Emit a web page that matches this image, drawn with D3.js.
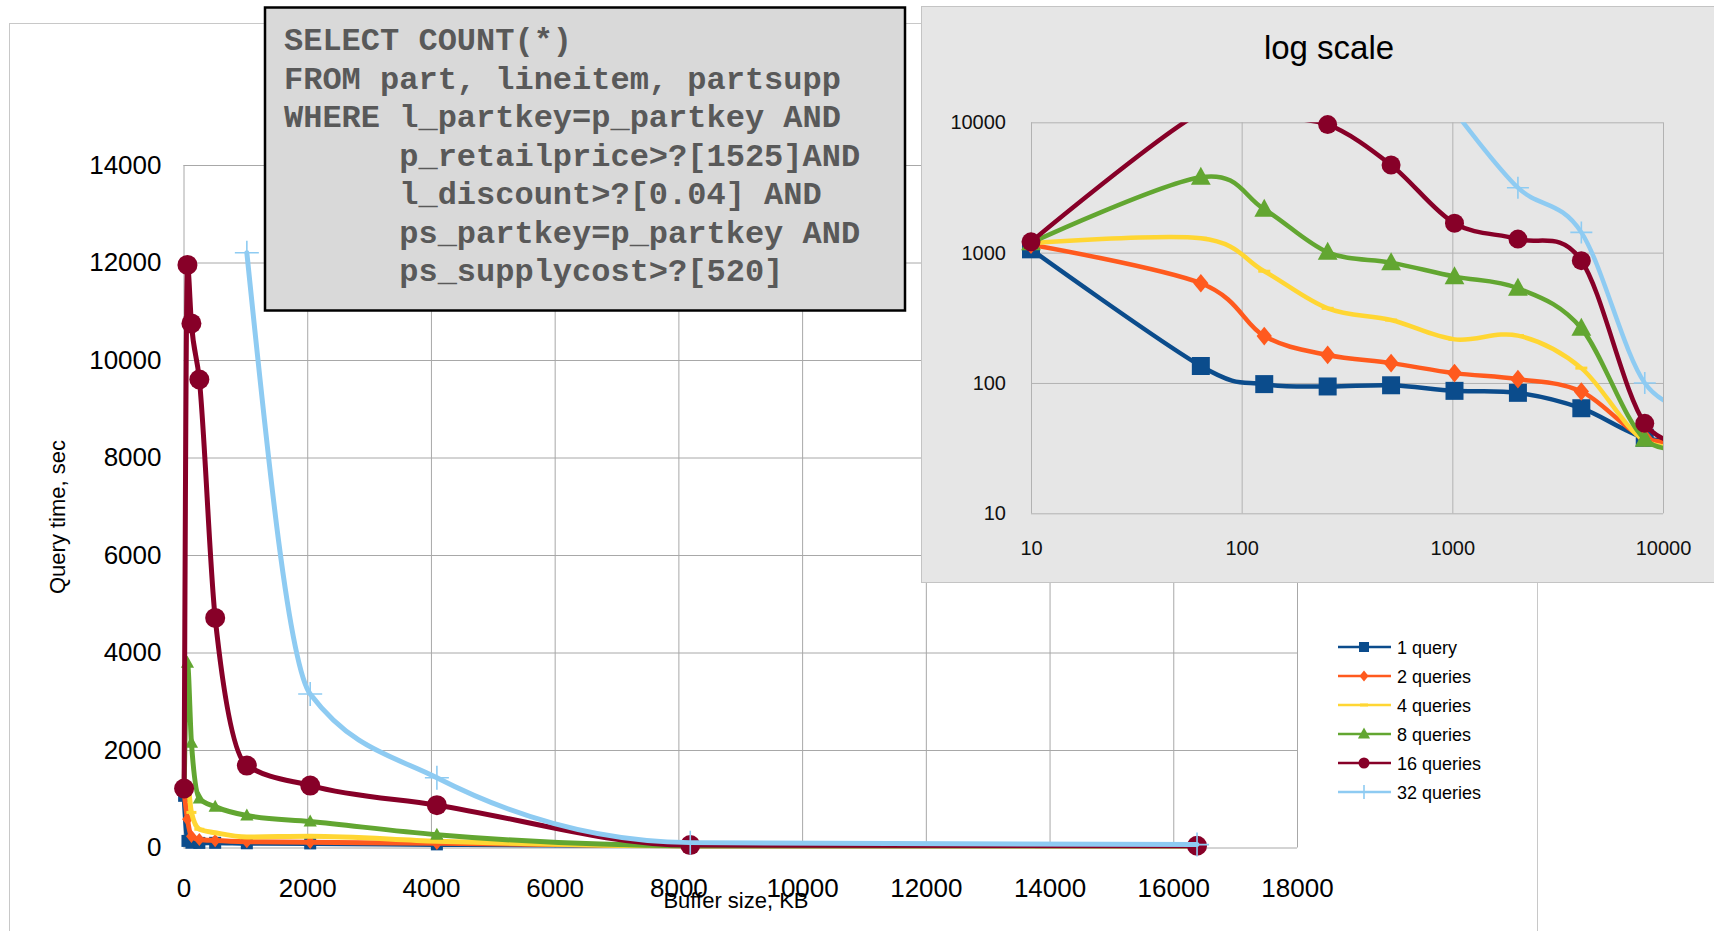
<!DOCTYPE html>
<html>
<head>
<meta charset="utf-8">
<script src="https://cdn.jsdelivr.net/npm/d3@7"></script>
<style>
  html, body { margin: 0; padding: 0; background: #ffffff; }
  svg { display: block; }
  text { font-family: "Liberation Sans", Arial, sans-serif; }
</style>
</head>
<body>
<script>
// Buffer sizes (KB) at which the query mix was timed
const bufferKB = [10, 64, 128, 256, 512, 1024, 2048, 4096, 8192, 16384];

// Query time (sec) for each number of concurrent queries
const q1  = [1060, 135, 98, 94, 96, 87, 84, 64, 38, 35];
const q2  = [1150, 582, 229, 164, 142, 119, 107, 86, 38, 35];
const q4  = [1180, 1290, 720, 374, 304, 216, 231, 130, 36, 34];
const q8  = [1190, 3790, 2150, 1007, 838, 655, 533, 263, 37, 34];
const q16 = [1210, 11950, 10750, 9600, 4710, 1680, 1270, 868, 49, 36];
const q32 = [null, null, null, null, null, 12200, 3150, 1430, 100, 60];

const seriesNames   = ["1 query", "2 queries", "4 queries", "8 queries", "16 queries", "32 queries"];
const seriesValues  = [q1, q2, q4, q8, q16, q32];
const seriesColors  = ["#0b4c8c", "#ff5a1e", "#ffd633", "#62a631", "#870028", "#8ecbf2"];
const seriesMarkers = ["square", "diamond", "dash", "triangle", "circle", "plus"];

// Axis ticks
const mainXTicks = [0, 2000, 4000, 6000, 8000, 10000, 12000, 14000, 16000, 18000];
const mainYTicks = [0, 2000, 4000, 6000, 8000, 10000, 12000, 14000];
const logTicks   = [10, 100, 1000, 10000];

// Query shown in the callout box
const sqlLines = [
  "SELECT COUNT(*)",
  "FROM part, lineitem, partsupp",
  "WHERE l_partkey=p_partkey AND",
  "      p_retailprice>?[1525]AND",
  "      l_discount>?[0.04] AND",
  "      ps_partkey=p_partkey AND",
  "      ps_supplycost>?[520]"
];

const series = seriesNames.map((name, i) => ({
  name,
  color: seriesColors[i],
  marker: seriesMarkers[i],
  points: bufferKB.map((x, j) => ({ x, v: seriesValues[i][j] })).filter(d => d.v != null)
}));

const svg = d3.select("body").append("svg").attr("width", 1714).attr("height", 931);

// Marker shapes, centred on the origin
function markerPath(type, s) {
  switch (type) {
    case "square":   return `M${-s/2},${-s/2}h${s}v${s}h${-s}Z`;
    case "diamond":  return `M0,${-s*0.55}L${s*0.45},0L0,${s*0.55}L${-s*0.45},0Z`;
    case "triangle": return `M0,${-s*0.58}L${s*0.55},${s*0.42}L${-s*0.55},${s*0.42}Z`;
    case "circle":   return d3.symbol(d3.symbolCircle, Math.PI * (s/2) * (s/2))();
    case "plus":     return `M${-s/2},0H${s/2}M0,${-s/2}V${s/2}`;
    case "dash":     return `M${-s/2},0H${s/2}`;
  }
}
function styleMarker(sel, type, color) {
  if (type === "plus") sel.attr("fill", "none").attr("stroke", color).attr("stroke-width", 1.6);
  else if (type === "dash") sel.attr("fill", "none").attr("stroke", color).attr("stroke-width", 3);
  else sel.attr("fill", color).attr("stroke", "none");
}

// ---------------- Main (linear) chart ----------------
svg.append("rect")
  .attr("x", 9.5).attr("y", 23.5).attr("width", 1528).attr("height", 960)
  .attr("fill", "#ffffff").attr("stroke", "#c8c8c8").attr("stroke-width", 1);

const x = d3.scaleLinear().domain([0, 18000]).range([183.5, 1297]);
const y = d3.scaleLinear().domain([0, 14000]).range([847.5, 165]);
const plotW = x.range()[1] - x.range()[0];
const plotH = y.range()[0] - y.range()[1];

const yAxis = svg.append("g")
  .attr("transform", `translate(${x.range()[0]},0)`)
  .call(d3.axisLeft(y).tickValues(mainYTicks).tickFormat(d3.format("d"))
        .tickSizeInner(-plotW).tickSizeOuter(0).tickPadding(22));
const xAxis = svg.append("g")
  .attr("transform", `translate(0,${y.range()[0]})`)
  .call(d3.axisBottom(x).tickValues(mainXTicks).tickFormat(d3.format("d"))
        .tickSizeInner(-plotH).tickSizeOuter(0).tickPadding(31));
[yAxis, xAxis].forEach(a => {
  a.select(".domain").remove();
  a.selectAll(".tick line").attr("stroke", "#a8a8a8").attr("stroke-width", 1);
  a.selectAll(".tick text").attr("fill", "#000").style("font-size", "26px")
    .style("font-family", "'Liberation Sans', Arial, sans-serif");
});

svg.append("text")
  .attr("transform", "translate(65,517) rotate(-90)")
  .attr("text-anchor", "middle").attr("fill", "#000")
  .style("font-size", "22px").text("Query time, sec");

svg.append("text")
  .attr("x", 736).attr("y", 908)
  .attr("text-anchor", "middle").attr("fill", "#000")
  .style("font-size", "22px").text("Buffer size, KB");

// Smoothed lines without overshoot on the steep start of each series
const mainLine = d3.line().x(d => x(d.x)).y(d => y(d.v)).curve(d3.curveMonotoneX);
const mainMarkerSize = { square: 12, diamond: 12, dash: 10, triangle: 12, circle: 20, plus: 24 };

const mainSeries = svg.append("g").selectAll("g").data(series).join("g");
mainSeries.append("path")
  .attr("d", s => mainLine(s.points))
  .attr("fill", "none").attr("stroke", s => s.color)
  .attr("stroke-width", 5).attr("stroke-linejoin", "round").attr("stroke-linecap", "round");
mainSeries.each(function (s) {
  d3.select(this).selectAll("path.mk").data(s.points).join("path")
    .attr("class", "mk")
    .attr("transform", d => `translate(${x(d.x)},${y(d.v)})`)
    .attr("d", markerPath(s.marker, mainMarkerSize[s.marker]))
    .call(styleMarker, s.marker, s.color);
});

// Legend
const legend = svg.append("g").selectAll("g").data(series).join("g")
  .attr("transform", (s, i) => `translate(1338,${647 + i * 29})`);
legend.append("line")
  .attr("x1", 0).attr("x2", 53).attr("y1", 0).attr("y2", 0)
  .attr("stroke", s => s.color).attr("stroke-width", 2.5);
const legendMarkerSize = { square: 10, diamond: 10, dash: 8, triangle: 11, circle: 11, plus: 14 };
legend.append("path")
  .attr("transform", "translate(26,0)")
  .attr("d", s => markerPath(s.marker, legendMarkerSize[s.marker]))
  .each(function (s) { d3.select(this).call(styleMarker, s.marker, s.color); });
legend.append("text")
  .attr("x", 59).attr("y", 6.5).attr("fill", "#000")
  .style("font-size", "18px").text(s => s.name);

// ---------------- SQL callout ----------------
svg.append("rect")
  .attr("x", 265).attr("y", 7.5).attr("width", 640).attr("height", 303)
  .attr("fill", "#d9d9d9").attr("stroke", "#000").attr("stroke-width", 2.5);
svg.append("g").selectAll("text").data(sqlLines).join("text")
  .attr("x", 284).attr("y", (d, i) => 50 + i * 38.5)
  .attr("fill", "#595959")
  .style("font-family", "'Liberation Mono', 'Courier New', monospace")
  .style("font-weight", "bold").style("font-size", "32px")
  .style("white-space", "pre")
  .text(d => d);

// ---------------- Log-scale inset ----------------
svg.append("rect")
  .attr("x", 921.5).attr("y", 6.5).attr("width", 820).attr("height", 576)
  .attr("fill", "#e6e6e6").attr("stroke", "#c4c4c4").attr("stroke-width", 1);

svg.append("text")
  .attr("x", 1329).attr("y", 59).attr("text-anchor", "middle").attr("fill", "#000")
  .style("font-size", "33px").text("log scale");

const lx = d3.scaleLog().domain([10, 10000]).range([1031, 1663]);
const ly = d3.scaleLog().domain([10, 10000]).range([513.3, 122.3]);
const lW = lx.range()[1] - lx.range()[0];
const lH = ly.range()[0] - ly.range()[1];

const lyAxis = svg.append("g")
  .attr("transform", `translate(${lx.range()[0]},0)`)
  .call(d3.axisLeft(ly).tickValues(logTicks).tickFormat(d3.format("d"))
        .tickSizeInner(-lW).tickSizeOuter(0).tickPadding(25));
const lxAxis = svg.append("g")
  .attr("transform", `translate(0,${ly.range()[0]})`)
  .call(d3.axisBottom(lx).tickValues(logTicks).tickFormat(d3.format("d"))
        .tickSizeInner(-lH).tickSizeOuter(0).tickPadding(28));
[lyAxis, lxAxis].forEach(a => {
  a.select(".domain").remove();
  a.selectAll(".tick line").attr("stroke", "#b2b2b2").attr("stroke-width", 1);
  a.selectAll(".tick text").attr("fill", "#111").style("font-size", "20px")
    .style("font-family", "'Liberation Sans', Arial, sans-serif");
});

svg.append("clipPath").attr("id", "logClip")
  .append("rect").attr("x", lx.range()[0]).attr("y", ly.range()[1])
  .attr("width", lW).attr("height", lH);

const logLine = d3.line().x(d => lx(d.x)).y(d => ly(d.v)).curve(d3.curveCardinal.tension(0));
const logMarkerSize = { square: 18, diamond: 17, dash: 12, triangle: 18, circle: 19, plus: 22 };
const inRange = d => d.x >= 10 && d.x <= 10000 && d.v >= 10 && d.v <= 10000;

const logSeries = svg.append("g").selectAll("g").data(series).join("g");
logSeries.append("path")
  .attr("clip-path", "url(#logClip)")
  .attr("d", s => logLine(s.points))
  .attr("fill", "none").attr("stroke", s => s.color)
  .attr("stroke-width", 4.5).attr("stroke-linejoin", "round").attr("stroke-linecap", "round");
logSeries.each(function (s) {
  d3.select(this).selectAll("path.mk").data(s.points.filter(inRange)).join("path")
    .attr("class", "mk")
    .attr("transform", d => `translate(${lx(d.x)},${ly(d.v)})`)
    .attr("d", markerPath(s.marker, logMarkerSize[s.marker]))
    .call(styleMarker, s.marker, s.color);
});
</script>
</body>
</html>
